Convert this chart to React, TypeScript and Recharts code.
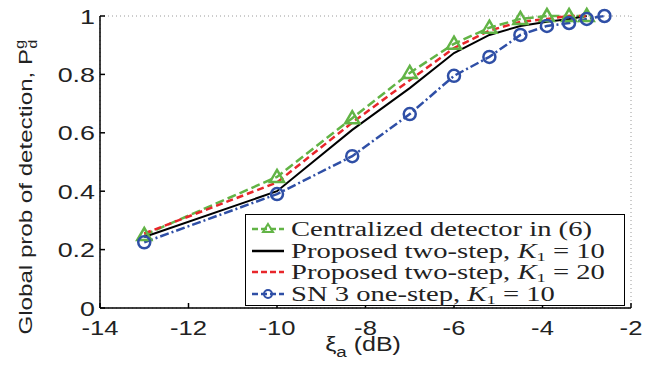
import React from 'react';
import {
  LineChart, Line, XAxis, YAxis, CartesianGrid, Legend, Label
} from 'recharts';

// x positions (dB) of the simulated points
const xCentral = [-13, -10, -8.3, -7, -6, -5.2, -4.5, -3.9, -3.4, -3.0];
const xSn3 = [-13, -10, -8.3, -7, -6, -5.2, -4.5, -3.9, -3.4, -3.0, -2.6];

const centralized = [0.25, 0.449, 0.65, 0.805, 0.905, 0.96, 0.99, 1.0, 1.0, 1.0];
const twoStepK10 = [0.243, 0.4, 0.61, 0.753, 0.873, 0.935, 0.966, 0.98, 0.99, 1.0];
const twoStepK20 = [0.255, 0.43, 0.635, 0.78, 0.89, 0.95, 0.98, 0.99, 1.0, 1.0];
const sn3OneStep = [0.225, 0.39, 0.52, 0.664, 0.795, 0.86, 0.935, 0.966, 0.976, 0.99, 1.0];

const xTicks = [-14, -12, -10, -8, -6, -4, -2];
const yTicks = [0, 0.2, 0.4, 0.6, 0.8, 1];

const GREEN = '#62b446';
const RED = '#e8262b';
const BLUE = '#2f4fa6';
const BLACK = '#000';

const toPoints = (xs: number[], ys: number[]) => xs.map((x, i) => ({ x, y: ys[i] }));

const seriesList = [
  { name: 'Centralized detector in (6)', data: toPoints(xCentral, centralized), color: GREEN, dash: '9 4', marker: 'tri', width: 2.5 },
  { name: 'Proposed two-step, ', k: '10', data: toPoints(xCentral, twoStepK10), color: BLACK, dash: undefined, marker: 'none', width: 2 },
  { name: 'Proposed two-step, ', k: '20', data: toPoints(xCentral, twoStepK20), color: RED, dash: '7 4', marker: 'none', width: 2.5 },
  { name: 'SN 3 one-step, ', k: '10', data: toPoints(xSn3, sn3OneStep), color: BLUE, dash: '9 3 2 3', marker: 'circ', width: 2.5 },
];

const TriangleDot = (props: any) => {
  const { cx, cy, index } = props;
  if (cx == null || cy == null) return null;
  return (
    <path key={index} d={`M${cx},${cy - 7} L${cx + 7},${cy + 5} L${cx - 7},${cy + 5} Z`}
      fill="none" stroke={GREEN} strokeWidth={2.5} />
  );
};

const CircleDot = (props: any) => {
  const { cx, cy, index } = props;
  if (cx == null || cy == null) return null;
  return <circle key={index} cx={cx} cy={cy} r={6} fill="none" stroke={BLUE} strokeWidth={2.5} />;
};

const serif = '"Liberation Serif", "Times New Roman", serif';
const sans = '"Liberation Sans", Arial, sans-serif';
const STRETCH = 1.28; // the source figure is stretched horizontally

const XTick = (props: any) => {
  const { x, y, payload } = props;
  return (
    <text transform={`translate(${x},${y}) scale(${STRETCH},1)`} textAnchor="middle" dy="0.71em"
      fontFamily={sans} fontSize={20} fill="#222">{payload.value}</text>
  );
};

const YTick = (props: any) => {
  const { x, y, payload } = props;
  return (
    <text transform={`translate(${x},${y}) scale(${STRETCH},1)`} textAnchor="end" dy="0.36em"
      fontFamily={sans} fontSize={21} fill="#222">{String(payload.value)}</text>
  );
};

const renderLegend = () => (
  <div style={{
    border: '1.5px solid #000', background: '#fff', padding: '3px 0 2px 6px',
    fontFamily: serif, fontSize: 20, color: '#222', boxSizing: 'border-box', width: 380, height: 92,
  }}>
    {seriesList.map(s => (
      <div key={s.name + (s.k || '')} style={{ display: 'flex', alignItems: 'center', height: 21.7 }}>
        <svg width={32} height={20} style={{ marginRight: 7, flex: 'none' }}>
          <line x1={0} y1={10} x2={32} y2={10} stroke={s.color} strokeWidth={2.5}
            strokeDasharray={s.dash ? '6 3' : undefined} />
          {s.marker === 'tri' && <path d="M16,5 L21,13 L11,13 Z" fill="none" stroke={GREEN} strokeWidth={2} />}
          {s.marker === 'circ' && <circle cx={16} cy={10} r={4} fill="none" stroke={BLUE} strokeWidth={2} />}
        </svg>
        <span style={{
          whiteSpace: 'nowrap', display: 'inline-block', transform: 'scaleX(1.43)',
          transformOrigin: 'left center', lineHeight: '20px',
        }}>
          {s.name}
          {s.k && (
            <>
              <i>K</i><span style={{ fontSize: 13, position: 'relative', top: 3, lineHeight: '13px' }}>1</span> = {s.k}
            </>
          )}
        </span>
      </div>
    ))}
  </div>
);

const YLabel = () => (
  <text transform={`translate(32,187) rotate(-90) scale(1.27,1)`} textAnchor="middle"
    fontFamily={sans} fontSize={19} fill="#222">
    Global prob of detection, P
    <tspan fontSize={13} dy={-8}>g</tspan>
    <tspan fontSize={13} dx={-7} dy={13}>d</tspan>
  </text>
);

const XLabel = () => (
  <text transform={`translate(363,351) scale(1.25,1)`} textAnchor="middle" fontFamily={sans} fontSize={20} fill="#222">
    ξ<tspan fontSize={15} dy={6}>a</tspan><tspan dy={-6}> (dB)</tspan>
  </text>
);

export default function App() {
  return (
    <div style={{ position: 'absolute', left: 0, top: 0, background: '#fff' }}>
      <LineChart width={660} height={365} margin={{ top: 16, right: 29, bottom: 27, left: 40 }}>
        <CartesianGrid strokeDasharray="1 3" stroke="#9a9a9a" />
        <XAxis xAxisId="b" dataKey="x" type="number" domain={[-14, -2]} ticks={xTicks}
          allowDataOverflow height={30} tickSize={-5} tickMargin={18}
          stroke="#000" strokeWidth={1.5} tick={<XTick />}>
          <Label content={<XLabel />} />
        </XAxis>
        <XAxis xAxisId="t" orientation="top" dataKey="x" type="number" domain={[-14, -2]} ticks={xTicks}
          height={0} tickSize={-5} tick={false} stroke="#000" strokeWidth={1.5} />
        <YAxis yAxisId="l" type="number" domain={[0, 1]} ticks={yTicks} width={60}
          tickSize={-5} tickMargin={10} stroke="#000" strokeWidth={1.5} tick={<YTick />}>
          <Label content={<YLabel />} />
        </YAxis>
        <YAxis yAxisId="r" orientation="right" type="number" domain={[0, 1]} ticks={yTicks} width={0}
          tickSize={-5} tick={false} stroke="#000" strokeWidth={1.5} />
        <Legend layout="vertical" align="center" verticalAlign="middle" content={renderLegend}
          wrapperStyle={{ position: 'absolute', left: 245, top: 214, width: 380 }} />
        {seriesList.map(s => (
          <Line key={s.name + (s.k || '')} xAxisId="b" yAxisId="l" data={s.data} dataKey="y"
            type="linear" stroke={s.color} strokeWidth={s.width} strokeDasharray={s.dash}
            dot={s.marker === 'tri' ? TriangleDot : s.marker === 'circ' ? CircleDot : false}
            activeDot={false} isAnimationActive={false} legendType="none" />
        ))}
      </LineChart>
    </div>
  );
}
